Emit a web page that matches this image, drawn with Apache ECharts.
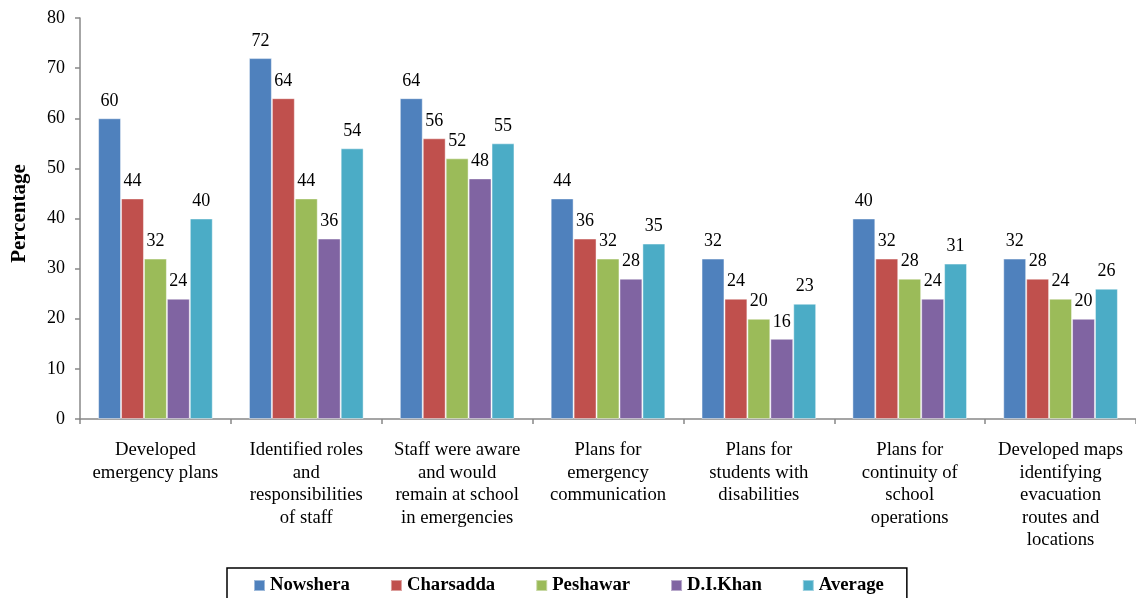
<!DOCTYPE html>
<html>
<head>
<meta charset="utf-8">
<script src="https://cdn.jsdelivr.net/npm/echarts@6/dist/echarts.min.js"></script>
<style>html,body{margin:0;padding:0;background:#fff;}#c{width:1136px;height:598px;}</style>
</head>
<body>
<div id="c"></div>
<script>
const categories = [
  "Developed\nemergency plans",
  "Identified roles\nand\nresponsibilities\nof staff",
  "Staff were aware\nand would\nremain at school\nin emergencies",
  "Plans for\nemergency\ncommunication",
  "Plans for\nstudents with\ndisabilities",
  "Plans for\ncontinuity of\nschool\noperations",
  "Developed maps\nidentifying\nevacuation\nroutes and\nlocations"
];
const seriesNames = ["Nowshera", "Charsadda", "Peshawar", "D.I.Khan", "Average"];
const nowshera  = [60, 72, 64, 44, 32, 40, 32];
const charsadda = [44, 64, 56, 36, 24, 32, 28];
const peshawar  = [32, 44, 52, 32, 20, 28, 24];
const diKhan    = [24, 36, 48, 28, 16, 24, 20];
const average   = [40, 54, 55, 35, 23, 31, 26];
const yTicks = { min: 0, max: 80, interval: 10 };

const colors = ["#4F81BD", "#C0504D", "#9BBB59", "#8064A2", "#4BACC6"];
const values = [nowshera, charsadda, peshawar, diKhan, average];
const font = "'Liberation Serif', 'Times New Roman', serif";

const chart = echarts.init(document.getElementById('c'));
chart.setOption({
  animation: false,
  textStyle: { fontFamily: font },
  grid: { left: 80, top: 18, bottom: 179, right: -6, containLabel: false },
  legend: {
    data: seriesNames,
    left: 227, top: 568,
    padding: [8, 23, 20, 26],
    borderColor: '#000', borderWidth: 1.5,
    itemWidth: 11, itemHeight: 11, itemGap: 40,
    icon: 'rect',
    textStyle: { fontFamily: font, fontSize: 18.7, fontWeight: 'bold', color: '#000' }
  },
  xAxis: {
    type: 'category',
    data: categories,
    axisLine: { lineStyle: { color: '#888', width: 1.5 } },
    axisTick: { show: true, length: 5, lineStyle: { color: '#888', width: 1.5 } },
    axisLabel: { interval: 0, fontSize: 18.7, color: '#000', lineHeight: 22.5, margin: 20, fontFamily: font }
  },
  yAxis: {
    type: 'value',
    min: yTicks.min, max: yTicks.max, interval: yTicks.interval,
    name: 'Percentage', nameLocation: 'middle', nameGap: 50,
    nameTextStyle: { fontFamily: font, fontSize: 21, fontWeight: 'bold', color: '#000', padding: [0, 0, 0, 10] },
    axisLine: { show: true, lineStyle: { color: '#888', width: 1.5 } },
    axisTick: { show: true, length: 5, lineStyle: { color: '#888', width: 1.5 } },
    splitLine: { show: false },
    axisLabel: { fontSize: 18, color: '#000', margin: 15, fontFamily: font }
  },
  series: seriesNames.map((n, i) => ({
    name: n,
    type: 'bar',
    data: values[i],
    barGap: '0%',
    barCategoryGap: '24%',
    itemStyle: { color: colors[i], borderColor: 'rgba(255,255,255,0.45)', borderWidth: 1 },
    label: { show: true, position: 'top', distance: 8, fontSize: 18, color: '#000', fontFamily: font }
  }))
});
</script>
</body>
</html>
